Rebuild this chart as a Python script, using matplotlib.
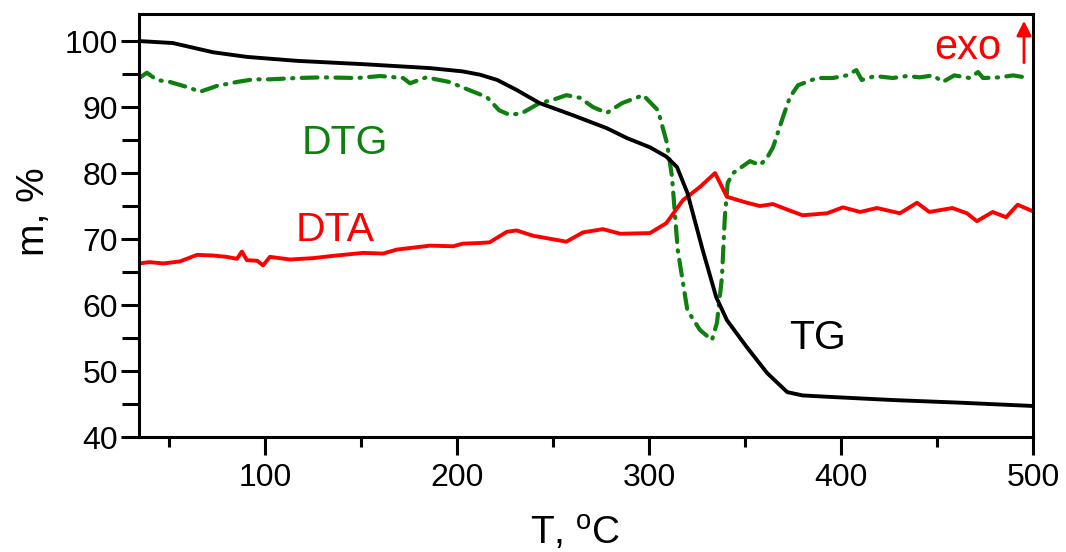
import matplotlib
matplotlib.use("Agg")
import matplotlib.pyplot as plt

plt.rcParams['font.family'] = ['Liberation Sans', 'DejaVu Sans']
plt.rcParams['mathtext.fontset'] = 'custom'
plt.rcParams['mathtext.rm'] = 'Liberation Sans'

# TG curve
tg_T = [34.4, 52, 73, 90.6, 116.7, 151, 186, 203, 212, 221, 231, 243, 260, 278, 288.5,
        300.5, 309, 314.6, 320, 328, 335, 340.6, 351, 361.5, 372, 380, 392.7, 427, 462, 500]
tg_m = [100, 99.7, 98.3, 97.6, 97.0, 96.5, 95.9, 95.4, 94.9, 94.1, 92.6, 90.6, 88.8, 86.8, 85.3,
        83.9, 82.5, 80.9, 77.0, 68.3, 61.2, 57.7, 53.6, 49.7, 46.8, 46.3, 46.1, 45.6, 45.2, 44.7]

# DTA curve
dta_T = [34.4, 40, 47, 55.7, 64.6, 73, 80, 85.4, 88, 90.6, 96, 99, 102.6, 113, 125, 133.9, 151,
         161.5, 168.7, 186, 198, 203, 212, 217, 226, 231, 239.6, 257, 265.6, 276, 285, 300.5,
         309, 317.7, 326.6, 334.4, 340.6, 351, 357.8, 364.6, 369.8, 380, 392.7, 401, 410, 418.7,
         430.7, 439.6, 446, 458, 465.6, 470.8, 479, 486, 492, 500]
dta_v = [66.3, 66.5, 66.3, 66.6, 67.6, 67.5, 67.3, 67.0, 68.1, 66.8, 66.7, 66.0, 67.3, 66.9, 67.1,
         67.4, 67.9, 67.8, 68.4, 69.0, 68.9, 69.3, 69.4, 69.5, 71.1, 71.3, 70.5, 69.6, 71.0, 71.5,
         70.8, 70.9, 72.4, 75.9, 77.9, 80.0, 76.4, 75.5, 75.0, 75.3, 74.7, 73.6, 73.9, 74.8, 74.1,
         74.7, 73.9, 75.5, 74.1, 74.7, 73.9, 72.7, 74.1, 73.3, 75.2, 74.2]

# DTG curve
dtg_T = [35, 38.5, 43.7, 50.5, 61, 66, 75, 85.4, 94, 102.6, 116.7, 130, 148, 160, 172, 175.5,
         184, 196, 207, 215.6, 222, 227.6, 234, 243, 250, 257, 264, 270.8, 278, 286, 297, 304.7,
         309.4, 312, 315, 320, 326.6, 332.8, 335.4, 338, 339.5, 341, 343.8, 352.6, 357.8, 361.5,
         364.6, 369.8, 373.4, 377.6, 387.5, 395.8, 403, 408, 410.8, 417.7, 427, 434.4, 441, 448,
         453, 459, 467, 471.4, 474, 482.8, 489.6, 495.8]
dtg_v = [94.5, 95.2, 94.1, 93.8, 92.9, 92.3, 93.2, 93.8, 94.2, 94.2, 94.4, 94.5, 94.4, 94.7, 94.4,
         93.6, 94.5, 93.8, 92.5, 91.5, 89.5, 88.8, 89.1, 90.6, 91.1, 91.8, 91.4, 90.0, 89.1, 90.6,
         91.8, 89.5, 84.5, 79.4, 68.3, 59.2, 56.2, 54.7, 57.3, 64.2, 73.3, 78.5, 80.0, 81.8, 81.2,
         82.3, 83.9, 88.5, 91.5, 93.3, 94.4, 94.4, 94.8, 95.6, 94.1, 94.7, 94.4, 94.7, 94.5, 94.8,
         93.8, 94.8, 94.4, 95.3, 94.4, 94.5, 94.8, 94.5]

x_ticks = [100, 200, 300, 400, 500]
y_ticks = [40, 50, 60, 70, 80, 90, 100]

GREEN = '#0f800f'
RED = '#ff0000'

W, H = 1066, 552
fig = plt.figure(figsize=(W / 100, H / 100), dpi=100)
ax = fig.add_axes([139 / W, 1 - 437 / H, (1033 - 139) / W, (437 - 14) / H])

ax.plot(dtg_T, dtg_v, color=GREEN, lw=3.0, linestyle=(0, (3.8, 2.0, 0.3, 2.0)),
        dash_capstyle='round', solid_capstyle='round')
ax.plot(dta_T, dta_v, color=RED, lw=2.8)
ax.plot(tg_T, tg_m, color='black', lw=2.8)

ax.set_xlim(34.4, 500)
ax.set_ylim(40, 104.1)
ax.set_xticks(x_ticks)
ax.set_xticks([50, 150, 250, 350, 450], minor=True)
ax.set_yticks(y_ticks)
ax.set_yticks([45, 55, 65, 75, 85, 95], minor=True)

for s in ax.spines.values():
    s.set_linewidth(2.2)

ax.tick_params(axis='both', which='major', direction='out', width=2.2, length=13,
               labelsize=23, top=False, right=False)
ax.tick_params(axis='x', which='major', pad=6)
ax.tick_params(axis='y', which='major', pad=2)
ax.tick_params(axis='x', which='minor', direction='out', width=2.2, length=7, top=False)
ax.tick_params(axis='y', which='minor', direction='out', width=2.2, length=12, right=False)

fig.text(575 / W, 1 - 545 / H, r'T, $^{\mathrm{o}}$C', fontsize=28, ha='center', va='baseline')
fig.text(34 / W, 1 - 212 / H, 'm, %', fontsize=28, ha='center', va='center', rotation=90)

ax.text(141.7, 84.5, 'DTG', color=GREEN, fontsize=29.5, ha='center', va='center')
ax.text(136.5, 71.4, 'DTA', color=RED, fontsize=29.5, ha='center', va='center')
ax.text(388, 55.0, 'TG', color='black', fontsize=29.5, ha='center', va='center')
ax.text(466, 98.9, 'exo', color=RED, fontsize=30, ha='center', va='center')
ax.annotate('', xy=(495.3, 103.5), xytext=(495.3, 96.3),
            arrowprops=dict(arrowstyle='-|>', color=RED, lw=2.0, mutation_scale=22))

fig.savefig('out.png', dpi=100)
